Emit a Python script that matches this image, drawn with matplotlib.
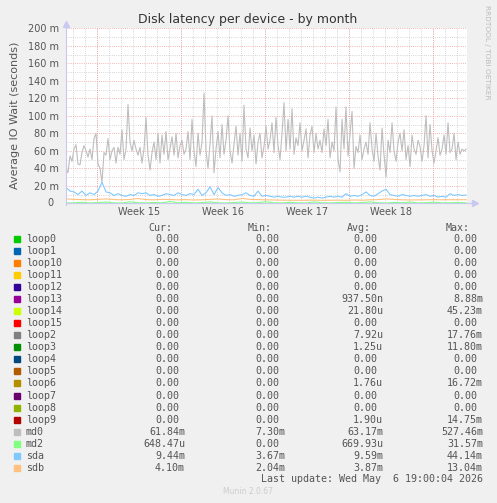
import numpy as np
import matplotlib
matplotlib.use("Agg")
import matplotlib.pyplot as plt
from matplotlib.transforms import blended_transform_factory

# ---------------- data ----------------
t_start, t_end = -2.55, 30.78          # days relative to Monday of week 15
week_starts = [0, 7, 14, 21, 28]
week_labels = ["Week 15", "Week 16", "Week 17", "Week 18"]
y_ticks = [0, 20, 40, 60, 80, 100, 120, 140, 160, 180, 200]
y_tick_labels = ["0", "20 m", "40 m", "60 m", "80 m", "100 m", "120 m",
                 "140 m", "160 m", "180 m", "200 m"]

md0 = [40, 35, 54, 48, 62, 67, 45, 44, 58, 66, 60, 53, 62, 50, 74, 80, 45, 40,
       24, 58, 55, 74, 50, 60, 64, 46, 64, 56, 84, 50, 62, 113, 70, 60, 72, 62,
       55, 64, 46, 62, 98, 55, 38, 58, 70, 50, 80, 46, 78, 56, 82, 50, 62, 76,
       55, 80, 52, 66, 72, 56, 62, 82, 50, 96, 60, 42, 80, 55, 70, 126, 60, 40,
       68, 100, 35, 62, 82, 52, 90, 56, 72, 100, 60, 46, 68, 88, 55, 80, 48,
       112, 62, 52, 86, 60, 78, 45, 70, 80, 52, 65, 88, 62, 72, 92, 58, 98, 66,
       50, 80, 115, 60, 96, 62, 108, 56, 75, 66, 92, 60, 72, 85, 52, 78, 88, 58,
       80, 62, 72, 58, 85, 66, 96, 52, 70, 60, 110, 50, 36, 96, 62, 110, 54, 80,
       105, 40, 65, 58, 78, 50, 62, 70, 56, 92, 62, 48, 80, 54, 38, 86, 55, 30,
       72, 58, 92, 60, 48, 70, 80, 60, 84, 50, 66, 42, 78, 62, 56, 72, 65, 48,
       66, 100, 52, 90, 60, 46, 60, 75, 55, 62, 78, 56, 92, 58, 62, 80, 50, 70,
       56, 62, 60, 61.84]

sda = [18, 14, 13, 10, 14, 9, 12, 10, 14, 24, 13, 12, 9, 11, 9, 8, 10, 9, 12,
       11, 12, 9, 10, 8, 9, 11, 10, 9, 12, 10, 9, 11, 10, 16, 9, 12, 19, 10, 18,
       12, 9, 10, 8, 9, 10, 12, 9, 8, 14, 8, 9, 8, 7, 8, 7, 7, 8, 7, 8, 7, 8, 7,
       6, 7, 6, 7, 8, 7, 8, 7, 11, 8, 9, 8, 10, 13, 9, 8, 11, 14, 16, 10, 9, 8,
       10, 9, 8, 9, 8, 9, 10, 8, 9, 7, 8, 7, 11, 9, 10, 9, 9.44]

sdb = [5, 4.5, 4.2, 4, 4.5, 5, 4.3, 4, 4.4, 5.5, 4.2, 4, 4.5, 4.3, 4, 4.2, 3.8,
       4, 4.5, 5, 4.2, 4, 5.5, 4.5, 4.2, 4, 3.8, 3.6, 3.5, 3.4, 3.5, 3.6, 3.4,
       3.5, 3.6, 3.4, 3.8, 3.5, 4, 4.2, 5, 4.5, 4, 3.8, 3.9, 4, 4.2, 4, 4.1,
       4.1, 4.1]

md2 = [0.3, 0.5, 1.2, 0.4, 0.8, 1.5, 0.5, 0.3, 1.8, 0.6, 0.4, 1.0, 0.5, 2.0,
       0.6, 1.2, 0.4, 0.8, 1.6, 0.5, 0.3, 0.9, 1.4, 0.5, 0.7, 1.8, 0.6, 0.4,
       1.1, 0.5, 0.3, 1.6, 0.6, 0.4, 0.9, 1.2, 0.5, 0.8, 1.7, 0.5, 0.3, 1.0,
       0.6, 1.5, 0.4, 0.7, 1.3, 0.5, 0.6, 0.9, 0.65]

legend_names = ["loop0", "loop1", "loop10", "loop11", "loop12", "loop13",
                "loop14", "loop15", "loop2", "loop3", "loop4", "loop5",
                "loop6", "loop7", "loop8", "loop9", "md0", "md2", "sda", "sdb"]
legend_colors = ["#00CC00", "#0066B3", "#FF8000", "#FFCC00", "#330099",
                 "#990099", "#CCFF00", "#FF0000", "#808080", "#008F00",
                 "#00487D", "#B35A00", "#B38F00", "#6B006B", "#8FB300",
                 "#B30000", "#BEBEBE", "#80FF80", "#80C9FF", "#FFC080"]
cur_vals = ["0.00"] * 16 + ["61.84m", "648.47u", "9.44m", "4.10m"]
min_vals = ["0.00"] * 16 + ["7.30m", "0.00", "3.67m", "2.04m"]
avg_vals = ["0.00", "0.00", "0.00", "0.00", "0.00", "937.50n", "21.80u",
            "0.00", "7.92u", "1.25u", "0.00", "0.00", "1.76u", "0.00", "0.00",
            "1.90u", "63.17m", "669.93u", "9.59m", "3.87m"]
max_vals = ["0.00", "0.00", "0.00", "0.00", "0.00", "8.88m", "45.23m", "0.00",
            "17.76m", "11.80m", "0.00", "0.00", "16.72m", "0.00", "0.00",
            "14.75m", "527.46m", "31.57m", "44.14m", "13.04m"]

# ---------------- figure ----------------
W, H = 497, 503
fig = plt.figure(figsize=(W / 100, H / 100), dpi=100, facecolor="#F0F0F0")

L, R, T, B = 66, 467, 28.3, 203.3
ax = fig.add_axes([L / W, 1 - B / H, (R - L) / W, (B - T) / H])
ax.set_facecolor("white")
ax.set_xlim(t_start, t_end + 0.08)
ax.set_ylim(0, 200)

# grid
grid_minor = dict(color="#C8C8C8", lw=0.6, ls=(0, (1, 1.6)), zorder=1)
grid_major = dict(color="#EE9A9A", lw=0.6, ls=(0, (1, 1.6)), zorder=1.1)
for d in range(int(np.ceil(t_start)), int(t_end) + 1):
    ax.axvline(d, **grid_minor)
for w in week_starts:
    ax.axvline(w, **grid_major)
for yv in range(10, 201, 20):
    ax.axhline(yv, **grid_minor)
for yv in y_ticks[1:]:
    ax.axhline(yv, **grid_major)

def times(n):
    return np.linspace(t_start, t_end, n)

ax.plot(times(len(md0)), md0, color="#BEBEBE", lw=0.8, zorder=3)
ax.plot(times(len(md2)), md2, color="#80FF80", lw=0.8, zorder=4)
ax.plot(times(len(sdb)), sdb, color="#FFC080", lw=0.8, zorder=4)
ax.plot(times(len(sda)), sda, color="#80C9FF", lw=0.8, zorder=4)

for s in ax.spines.values():
    s.set_visible(False)
axis_col = "#C8C8F0"
ax.plot([0, 1.015], [0, 0], transform=ax.transAxes, color=axis_col, lw=0.8,
        clip_on=False, zorder=5)
ax.plot([0, 0], [-0.01, 1.01], transform=ax.transAxes, color=axis_col, lw=0.8,
        clip_on=False, zorder=5)
ax.plot([1.02], [0], transform=ax.transAxes, marker=">", color=axis_col,
        ms=4, clip_on=False, zorder=5)
ax.plot([0], [1.025], transform=ax.transAxes, marker="^", color=axis_col,
        ms=4, clip_on=False, zorder=5)

ax.set_yticks(y_ticks)
ax.set_yticklabels([""] + y_tick_labels[1:])
ax.set_xticks([])
ax.tick_params(axis="y", length=0, pad=5, labelsize=7, labelcolor="#555555")
trans_y = blended_transform_factory(fig.transFigure, ax.transData)
ax.text(53 / W, y_ticks[0], y_tick_labels[0], transform=trans_y, ha="right",
        va="center", fontsize=7, color="#555555")
trans = blended_transform_factory(ax.transData, ax.transAxes)
for i, lab in enumerate(week_labels):
    ax.text(week_starts[i] + 3.5, -0.052, lab, transform=trans, ha="center",
            va="center", fontsize=7, color="#555555")

ax.set_ylabel("Average IO Wait (seconds)", fontsize=8, color="#555555",
              labelpad=6)

fig.text(248 / W, 1 - 19 / H, "Disk latency per device - by month",
         ha="center", va="center", fontsize=9, color="#333333")
fig.text(487 / W, 1 - 5 / H, "RRDTOOL / TOBI OETIKER", rotation=-90,
         ha="center", va="top", fontsize=5.3, color="#BBBBBB")

# legend table
mono = "DejaVu Sans Mono"
fs = 7.2
cw = 6.0
tc = "#555555"
def fx(x):
    return x / W
def fy(y):
    return 1 - y / H

heads = [("Cur:", 172), ("Min:", 272), ("Avg:", 371), ("Max:", 470)]
for txt, xr in heads:
    fig.text(fx(xr), fy(228), txt, ha="right", va="center", family=mono,
             fontsize=fs, color=tc)
col_right = [185, 285, 383, 483]
for k, name in enumerate(legend_names):
    y = 239 + 12.04 * k
    fig.patches.append(plt.Rectangle((fx(14), fy(y + 3)), 6 / W, 6 / H,
                                     transform=fig.transFigure,
                                     color=legend_colors[k]))
    fig.text(fx(26), fy(y), name, ha="left", va="center", family=mono,
             fontsize=fs, color=tc)
    for vals, xr in zip([cur_vals, min_vals, avg_vals, max_vals], col_right):
        v = vals[k]
        xx = xr if v[-1].isalpha() else xr - cw
        fig.text(fx(xx), fy(y), v, ha="right", va="center", family=mono,
                 fontsize=fs, color=tc)

fig.text(fx(483), fy(479.5), "Last update: Wed May  6 19:00:04 2026",
         ha="right", va="center", family=mono, fontsize=fs, color=tc)
fig.text(fx(248), fy(492), "Munin 2.0.67", ha="center", va="center",
         fontsize=5.5, color="#CCCCCC")

fig.savefig("out.png", dpi=100, facecolor=fig.get_facecolor())
